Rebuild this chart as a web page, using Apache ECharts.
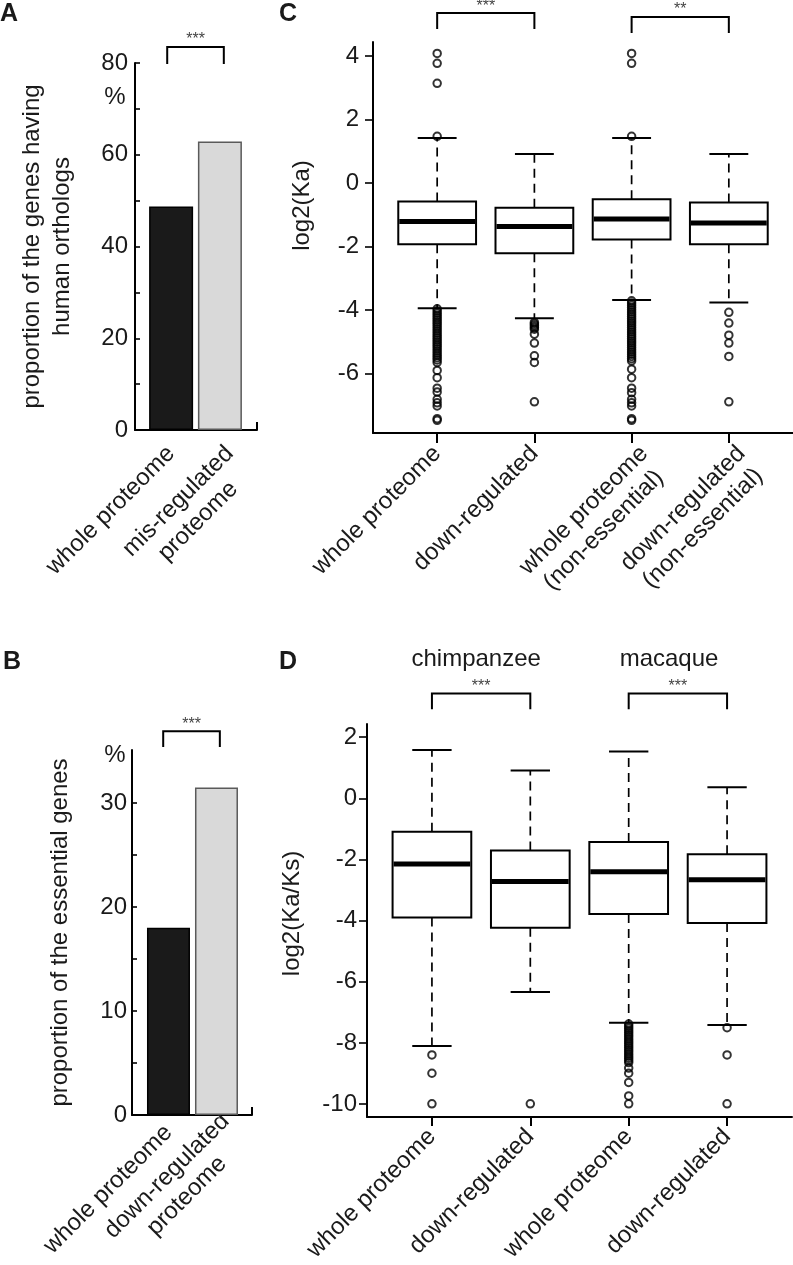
<!DOCTYPE html>
<html><head><meta charset="utf-8">
<script src="https://cdn.jsdelivr.net/npm/echarts@6/dist/echarts.min.js"></script>
<style>html,body{margin:0;padding:0;background:#fff}#c{width:793px;height:1265px}</style>
</head><body><div id="c"></div>
<script>
// ================= DATA =================
// Panel A
const catsA = ['whole proteome', 'mis-regulated\nproteome'];
const valsA = [48.7, 62.9];
const ticksA = [0, 20, 40, 60, 80];
const minorTicksA = [10, 30, 50, 70];
const sigA = ['***'];
// Panel B
const catsB = ['whole proteome', 'down-regulated\nproteome'];
const valsB = [18.0, 31.5];
const ticksB = [0, 10, 20, 30];
const minorTicksB = [5, 15, 25];
const sigB = ['***'];
// Panel C  (box stats: lower whisker, Q1, median, Q3, upper whisker)
const catsC = ['whole proteome', 'down-regulated', 'whole proteome\n(non-essential)', 'down-regulated\n(non-essential)'];
const boxC1 = [-3.94, -1.93, -1.21, -0.58, 1.42];
const boxC2 = [-4.26, -2.21, -1.37, -0.78, 0.91];
const boxC3 = [-3.68, -1.78, -1.13, -0.51, 1.42];
const boxC4 = [-3.76, -1.93, -1.26, -0.61, 0.91];
const outC1 = [4.08, 3.77, 3.14, 1.47, -3.96, -4.03, -4.1, -4.17, -4.24, -4.31, -4.38, -4.45, -4.52, -4.59, -4.66, -4.73, -4.8, -4.87, -4.94, -5.01, -5.08, -5.15, -5.22, -5.29, -5.36, -5.43, -5.5, -5.57, -5.65, -5.9, -6.13, -6.46, -6.58, -6.81, -6.92, -7.02, -7.42, -7.47];
const outC2 = [-4.39, -4.44, -4.49, -4.55, -4.6, -4.76, -5.04, -5.44, -5.65, -6.89];
const outC3 = [4.08, 3.77, 1.47, -3.71, -3.78, -3.85, -3.92, -3.99, -4.06, -4.13, -4.2, -4.27, -4.34, -4.41, -4.48, -4.55, -4.62, -4.69, -4.76, -4.83, -4.9, -4.97, -5.04, -5.11, -5.18, -5.25, -5.32, -5.39, -5.46, -5.53, -5.6, -5.86, -6.13, -6.46, -6.6, -6.81, -6.92, -7.02, -7.42, -7.47];
const outC4 = [-4.07, -4.41, -4.79, -5.04, -5.46, -6.89];
const ticksC = [-6, -4, -2, 0, 2, 4];
const sigC = ['***', '**'];
// Panel D
const catsD = ['whole proteome', 'down-regulated', 'whole proteome', 'down-regulated'];
const groupsD = ['chimpanzee', 'macaque'];
const boxD1 = [-8.1, -3.9, -2.15, -1.09, 1.58];
const boxD2 = [-6.33, -4.23, -2.72, -1.71, 0.91];
const boxD3 = [-7.34, -3.78, -2.40, -1.43, 1.53];
const boxD4 = [-7.41, -4.08, -2.66, -1.83, 0.36];
const outD1 = [-8.39, -8.99, -9.99];
const outD2 = [-9.99];
const outD3 = [-7.38, -7.45, -7.52, -7.59, -7.66, -7.73, -7.8, -7.87, -7.94, -8.01, -8.08, -8.15, -8.22, -8.29, -8.36, -8.43, -8.5, -8.57, -8.64, -8.82, -8.99, -9.29, -9.73, -9.99];
const outD4 = [-7.5, -8.39, -9.99];
const ticksD = [-10, -8, -6, -4, -2, 0, 2];
const sigD = ['***', '***'];

// ================= LAYOUT / STYLE =================
const FONT = '"Liberation Sans", Arial, Helvetica, sans-serif';
const TXT = '#1a1a1a';
const POS_A = [0.74, 1.74];
const POS_B = [0.76, 1.76];
const POS_BOX = [1, 2, 3, 4];
// label anchors (two-line labels sit a little right of their tick, as in the figure)
const LAB_A = [0.74, 1.94];
const LAB_B = [0.76, 1.95];
const LAB_C = [1, 2, 3.13, 4.13];
const LAB_D = [1, 2, 3, 4];
const BOX_W = 0.8;
const BAR_FILL = ['#1a1a1a', '#d9d9d9'];
const BAR_EDGE = ['#000000', '#5a5a5a'];
// brackets: [x1, x2, yTop, yLeg]
const BR_A = [[0.66, 1.82, 83.5, 79.8]];
const BR_B = [[0.65, 1.83, 36.9, 35.4]];
const BR_C = [[1, 2, 5.35, 4.85], [3, 4, 5.23, 4.72]];
const BR_D = [[1, 2, 3.43, 2.91], [3, 4, 3.43, 2.91]];
const GROUP_POS_D = [[1.45, 4.53], [3.41, 4.53]];
const GRIDS = [
  { left: 135, top: 63, width: 122, height: 367 },
  { left: 132, top: 750, width: 120, height: 365 },
  { left: 373, top: 42, width: 425, height: 391 },
  { left: 367, top: 724, width: 425, height: 393 }
];
const XR_A = [0, 2.5], XR_B = [0, 2.5], XR_BOX = [0.34, 4.66];
const MARGIN = [20, 14, 17, 16];

function richLabel(txt) {
  const lines = txt.split('\n');
  if (lines.length > 1) lines.unshift(' ');
  return lines.map(l => '{c|' + l + '}').join('\n');
}
function labelFmt(cats, pos) {
  return function (v) {
    let best = 0, bd = Infinity;
    pos.forEach((p, i) => { const d = Math.abs(p - v); if (d < bd) { bd = d; best = i; } });
    return richLabel(cats[best]);
  };
}
const RICH = { c: { fontSize: 24, fontFamily: FONT, color: TXT, align: 'center', lineHeight: 28 } };

function labelCfg(labPos, allPos, cats, margin) {
  return { show: labPos.length > 0, customValues: labPos, rotate: 45, margin: margin, showMinLabel: true, showMaxLabel: true, hideOverlap: false,
    formatter: labelFmt(cats, allPos), rich: RICH, fontSize: 24, fontFamily: FONT, color: TXT };
}
function xAxisCfg(grid, range, labPos, cats, tickVals, tickInside, tickLen, margin) {
  return {
    type: 'value', gridIndex: grid, min: range[0], max: range[1],
    splitLine: { show: false },
    axisLine: { show: true, onZero: false, lineStyle: { color: '#000', width: 2 } },
    axisTick: { show: true, inside: tickInside, length: tickLen, customValues: tickVals, lineStyle: { color: '#000', width: 2 } },
    axisLabel: labelCfg(labPos.filter((p, i) => cats[i].indexOf('\n') < 0), labPos, cats, margin)
  };
}
function yAxisCfg(grid, min, max, labels, tickVals, inside, tickLen, margin, name, gap, pad) {
  return {
    type: 'value', gridIndex: grid, min: min, max: max,
    splitLine: { show: false },
    axisLine: { show: true, onZero: false, lineStyle: { color: '#000', width: 2 } },
    axisTick: { show: true, inside: inside, length: tickLen, customValues: tickVals, lineStyle: { color: '#000', width: 1.6 } },
    axisLabel: { customValues: labels, margin: margin, showMinLabel: true, showMaxLabel: true, fontSize: 24, fontFamily: FONT, color: TXT },
    name: name, nameLocation: 'middle', nameGap: gap,
    nameTextStyle: { fontSize: 24, fontFamily: FONT, color: TXT, lineHeight: 30, padding: pad }
  };
}

function boxRender(params, api) {
  const x = api.value(0);
  const lo = api.value(1), q1 = api.value(2), med = api.value(3), q3 = api.value(4), hi = api.value(5);
  const w = api.size([BOX_W, 0])[0];
  const cx = api.coord([x, 0])[0];
  const y = v => api.coord([x, v])[1];
  const line = (x1, y1, x2, y2, lw, dash) => ({
    type: 'line', shape: { x1, y1, x2, y2 },
    style: { stroke: '#000', lineWidth: lw, lineDash: dash || null }
  });
  return {
    type: 'group', children: [
      line(cx, y(q3), cx, y(hi), 1.7, [9, 6]),
      line(cx, y(q1), cx, y(lo), 1.7, [9, 6]),
      line(cx - w / 4, y(hi), cx + w / 4, y(hi), 2),
      line(cx - w / 4, y(lo), cx + w / 4, y(lo), 2),
      { type: 'rect', shape: { x: cx - w / 2, y: y(q3), width: w, height: y(q1) - y(q3) },
        style: { fill: '#fff', stroke: '#000', lineWidth: 2 } },
      line(cx - w / 2 + 1, y(med), cx + w / 2 - 1, y(med), 5)
    ]
  };
}
function bracketRender(labels) {
  return function (params, api) {
    const a = api.value(0), b = api.value(1), top = api.value(2), leg = api.value(3);
    const p1 = api.coord([a, leg]), p2 = api.coord([a, top]), p3 = api.coord([b, top]), p4 = api.coord([b, leg]);
    return {
      type: 'group', children: [
        { type: 'polyline', shape: { points: [p1, p2, p3, p4] }, style: { stroke: '#000', lineWidth: 2, fill: null } },
        { type: 'text', x: (p2[0] + p3[0]) / 2, y: p2[1] + 1,
          style: { text: labels[params.dataIndex], fontSize: 16, fontFamily: FONT, fill: '#444', align: 'center', verticalAlign: 'bottom' } }
      ]
    };
  };
}
function groupRender(params, api) {
  const p = api.coord([api.value(0), api.value(1)]);
  return { type: 'text', x: p[0], y: p[1], style: { text: groupsD[params.dataIndex], fontSize: 24, fontFamily: FONT, fill: TXT, align: 'center', verticalAlign: 'middle' } };
}
function outlierSeries(xi, yi, arrs) {
  const data = [];
  arrs.forEach((arr, i) => arr.forEach(v => data.push([POS_BOX[i], v])));
  return {
    type: 'scatter', xAxisIndex: xi, yAxisIndex: yi, data: data, symbol: 'circle', symbolSize: 7.5, z: 5,
    itemStyle: { color: 'transparent', borderColor: '#000', borderWidth: 2 }, silent: true
  };
}
function barSeries(xi, yi, pos, vals, bw) {
  return {
    type: 'bar', xAxisIndex: xi, yAxisIndex: yi, barWidth: bw, silent: true,
    data: vals.map((v, i) => ({ value: [pos[i], v], itemStyle: { color: BAR_FILL[i], borderColor: BAR_EDGE[i], borderWidth: 1.5 } }))
  };
}

const grids = GRIDS.slice();
const xAxes = [
  xAxisCfg(0, XR_A, LAB_A, catsA, [XR_A[1]], true, 8, MARGIN[0]),
  xAxisCfg(1, XR_B, LAB_B, catsB, [XR_B[1]], true, 8, MARGIN[1]),
  xAxisCfg(2, XR_BOX, LAB_C, catsC, POS_BOX, false, 10, MARGIN[2]),
  xAxisCfg(3, XR_BOX, LAB_D, catsD, POS_BOX, false, 9, MARGIN[3])
];
const yAxes = [
  yAxisCfg(0, 0, 80, ticksA, ticksA.concat(minorTicksA), true, 5, 7, 'proportion of the genes having\nhuman orthologs', 58, 0),
  yAxisCfg(1, 0, 35.1, ticksB, ticksB.concat(minorTicksB), true, 5, 5, 'proportion of the essential genes', 57, 0),
  yAxisCfg(2, -7.87, 4.44, ticksC, ticksC, false, 8, 14, 'log2(Ka)', 56, [0, 0, 0, 64]),
  yAxisCfg(3, -10.42, 2.43, ticksD, ticksD, false, 8, 10, 'log2(Ka/Ks)', 60, [0, 0, 0, 14])
];
// each two-line category label gets its own overlay grid + axis (so no label culling)
[[0, XR_A, LAB_A, catsA], [1, XR_B, LAB_B, catsB], [2, XR_BOX, LAB_C, catsC], [3, XR_BOX, LAB_D, catsD]].forEach(([g, range, pos, cats]) => {
  cats.forEach((c, i) => {
    if (c.indexOf('\n') < 0) return;
    const gi = grids.length;
    grids.push(Object.assign({}, GRIDS[g]));
    xAxes.push({ type: 'value', gridIndex: gi, min: range[0], max: range[1], splitLine: { show: false },
      axisLine: { show: false, onZero: false }, axisTick: { show: false },
      axisLabel: labelCfg([pos[i]], pos, cats, MARGIN[g]) });
    yAxes.push({ type: 'value', gridIndex: gi, min: 0, max: 1, show: false });
  });
});

const chart = echarts.init(document.getElementById('c'), null, { renderer: 'canvas' });
const option = {
  animation: false,
  backgroundColor: '#fff',
  textStyle: { fontFamily: FONT },
  grid: grids,
  xAxis: xAxes,
  yAxis: yAxes,
  series: [
    barSeries(0, 0, POS_A, valsA, 44),
    barSeries(1, 1, POS_B, valsB, 43),
    { type: 'custom', xAxisIndex: 2, yAxisIndex: 2, renderItem: boxRender, silent: true, z: 3,
      data: [boxC1, boxC2, boxC3, boxC4].map((b, i) => [POS_BOX[i]].concat(b)) },
    { type: 'custom', xAxisIndex: 3, yAxisIndex: 3, renderItem: boxRender, silent: true, z: 3,
      data: [boxD1, boxD2, boxD3, boxD4].map((b, i) => [POS_BOX[i]].concat(b)) },
    outlierSeries(2, 2, [outC1, outC2, outC3, outC4]),
    outlierSeries(3, 3, [outD1, outD2, outD3, outD4]),
    { type: 'custom', xAxisIndex: 0, yAxisIndex: 0, renderItem: bracketRender(sigA), silent: true, clip: false, data: BR_A },
    { type: 'custom', xAxisIndex: 1, yAxisIndex: 1, renderItem: bracketRender(sigB), silent: true, clip: false, data: BR_B },
    { type: 'custom', xAxisIndex: 2, yAxisIndex: 2, renderItem: bracketRender(sigC), silent: true, clip: false, data: BR_C },
    { type: 'custom', xAxisIndex: 3, yAxisIndex: 3, renderItem: bracketRender(sigD), silent: true, clip: false, data: BR_D },
    { type: 'custom', xAxisIndex: 3, yAxisIndex: 3, renderItem: groupRender, silent: true, clip: false, data: GROUP_POS_D }
  ],
  graphic: [
    { type: 'text', x: 0, y: 14, style: { text: 'A', fontSize: 25, fontWeight: 'bold', fontFamily: FONT, fill: TXT, verticalAlign: 'middle' } },
    { type: 'text', x: 3, y: 662, style: { text: 'B', fontSize: 25, fontWeight: 'bold', fontFamily: FONT, fill: TXT, verticalAlign: 'middle' } },
    { type: 'text', x: 279, y: 14, style: { text: 'C', fontSize: 25, fontWeight: 'bold', fontFamily: FONT, fill: TXT, verticalAlign: 'middle' } },
    { type: 'text', x: 279, y: 662, style: { text: 'D', fontSize: 25, fontWeight: 'bold', fontFamily: FONT, fill: TXT, verticalAlign: 'middle' } },
    { type: 'text', x: 115, y: 97, style: { text: '%', fontSize: 24, fontFamily: FONT, fill: TXT, align: 'center', verticalAlign: 'middle' } },
    { type: 'text', x: 115, y: 755, style: { text: '%', fontSize: 24, fontFamily: FONT, fill: TXT, align: 'center', verticalAlign: 'middle' } }
  ]
};
chart.setOption(option);
</script>
</body></html>
